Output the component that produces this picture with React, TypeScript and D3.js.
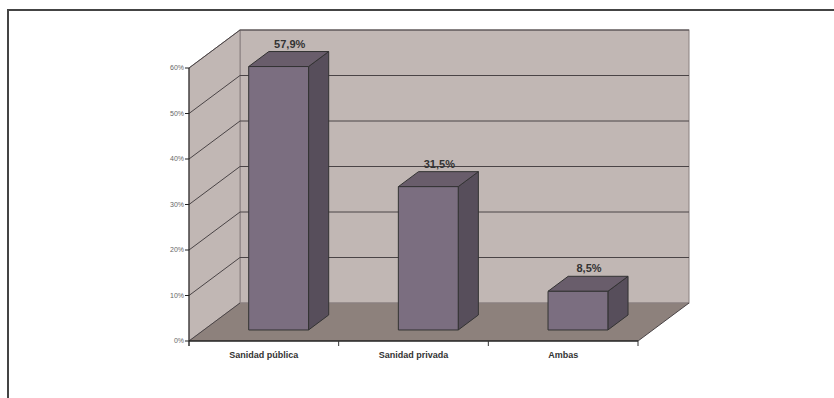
import React from "react";
import * as d3 from "d3";

const categories = ["Sanidad pública", "Sanidad privada", "Ambas"];
const values = [0.579, 0.315, 0.085];
const valueLabels = ["57,9%", "31,5%", "8,5%"];
const yTicks = [0, 0.1, 0.2, 0.3, 0.4, 0.5, 0.6];

const W = 834;
const H = 398;
const left = 189;
const right = 638;
const bottom = 341;
const top = 68;
const depthX = 51;
const depthY = 38;
const barFront = 0.29;
const barDepth = 0.395;

export default function App() {
  const x = d3.scaleBand<string>().domain(categories).range([left, right]).paddingInner(0.6).paddingOuter(0.3);
  const y = d3.scaleLinear().domain([0, 0.6]).range([bottom, top]);
  const fmt = d3.format(".0%");
  const pts = (p: [number, number][]) => p.map((q) => q.join(",")).join(" ");

  const wallFill = "#c1b7b4";
  const floorFill = "#8d817c";
  const edge = "#8a8080";
  const grid = "#4a4446";

  const bx0 = left + depthX;
  const by0 = bottom - depthY;
  const bx1 = right + depthX;
  const yTop = y(0.6) - depthY;

  const step = x.step();
  const catTicks = categories.map((_, i) => left + i * step).concat([right]);

  return (
    <svg width={W} height={H} style={{ position: "absolute", left: 0, top: 0 }} fontFamily="'Liberation Sans', Arial, sans-serif">
      <rect x={0} y={0} width={W} height={H} fill="#fff" />
      <rect x={8} y={10} width={W + 20} height={H + 20} fill="none" stroke="#444" strokeWidth={2} />
      {/* back wall */}
      <rect x={bx0} y={yTop} width={bx1 - bx0} height={by0 - yTop} fill={wallFill} stroke={edge} strokeWidth={1} />
      {/* side wall */}
      <polygon points={pts([[left, bottom], [left, y(0.6)], [bx0, yTop], [bx0, by0]])} fill={wallFill} stroke={edge} strokeWidth={1} />
      {/* floor */}
      <polygon points={pts([[left, bottom], [right, bottom], [bx1, by0], [bx0, by0]])} fill={floorFill} />
      {/* gridlines */}
      {yTicks.map((t) => (
        <g key={t}>
          <line x1={bx0} x2={bx1} y1={y(t) - depthY} y2={y(t) - depthY} stroke={t === 0 ? edge : grid} strokeWidth={1} />
          <line x1={left} x2={bx0} y1={y(t)} y2={y(t) - depthY} stroke={grid} strokeWidth={1} />
        </g>
      ))}
      <line x1={right} x2={bx1} y1={bottom} y2={by0} stroke={grid} strokeWidth={1} />
      {/* axes */}
      <line x1={left} x2={left} y1={y(0.6)} y2={bottom + 5} stroke="#222" strokeWidth={1} />
      <line x1={left} x2={right} y1={bottom} y2={bottom} stroke="#222" strokeWidth={1.5} />
      {catTicks.map((cx, i) => (
        <line key={i} x1={cx} x2={cx} y1={bottom} y2={bottom + 5} stroke="#333" strokeWidth={1} />
      ))}
      {yTicks.map((t) => (
        <g key={"l" + t}>
          <line x1={left - 4} x2={left} y1={y(t)} y2={y(t)} stroke="#222" strokeWidth={1} />
          <text x={left - 5} y={y(t)} dy="0.35em" textAnchor="end" fontSize={7} fill="#666">
            {fmt(t)}
          </text>
        </g>
      ))}
      {/* bars */}
      {categories.map((c, i) => {
        const fx = (x(c) as number) + barFront * depthX;
        const fyOff = barFront * depthY;
        const w = x.bandwidth();
        const dx = barDepth * depthX;
        const dy = barDepth * depthY;
        const yb = y(0) - fyOff;
        const yt = y(values[i]) - fyOff;
        return (
          <g key={c} stroke="#333" strokeWidth={1} strokeLinejoin="round">
            <polygon points={pts([[fx + w, yb], [fx + w, yt], [fx + w + dx, yt - dy], [fx + w + dx, yb - dy]])} fill="#574e5b" />
            <polygon points={pts([[fx, yt], [fx + dx, yt - dy], [fx + w + dx, yt - dy], [fx + w, yt]])} fill="#695d6b" />
            <rect x={fx} y={yt} width={w} height={yb - yt} fill="#7b6e80" />
            <text x={fx + w / 2 + dx / 2 + 1} y={yt - dy - 4} textAnchor="middle" fontSize={11} fontWeight="bold" fill="#333" stroke="none">
              {valueLabels[i]}
            </text>
          </g>
        );
      })}
      {categories.map((c) => (
        <text key={"c" + c} x={(x(c) as number) + x.bandwidth() / 2} y={bottom + 17} textAnchor="middle" fontSize={9} fontWeight="bold" fill="#333">
          {c}
        </text>
      ))}
    </svg>
  );
}
